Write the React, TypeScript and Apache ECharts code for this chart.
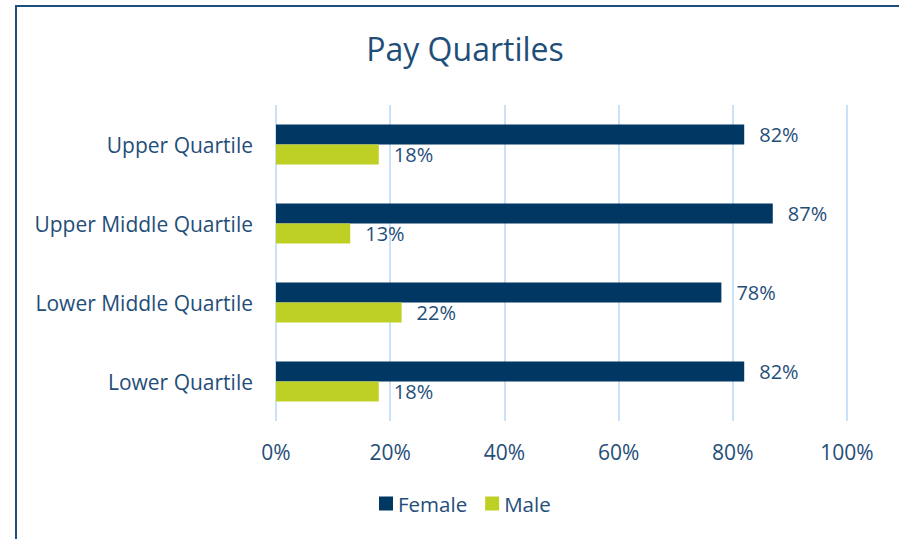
import React, { useEffect, useRef } from "react";
import * as echarts from "echarts";

const categories = ["Upper Quartile", "Upper Middle Quartile", "Lower Middle Quartile", "Lower Quartile"];
const femaleValues = [82, 87, 78, 82];
const maleValues = [18, 13, 22, 18];
const xTicks = [0, 20, 40, 60, 80, 100];

const TEXT = "#1F4E79";
const FONT = "Open Sans";

export default function App() {
  const ref = useRef<HTMLDivElement>(null);
  useEffect(() => {
    if (!ref.current) return;
    const chart = echarts.init(ref.current, null, { renderer: "svg" });
    const label = {
      show: true,
      position: "right",
      distance: 15,
      formatter: "{c}%",
      fontFamily: FONT,
      fontSize: 20,
      color: TEXT,
    };
    chart.setOption({
      animation: false,
      textStyle: { fontFamily: FONT },
      graphic: [
        {
          type: "rect",
          shape: { x: 16, y: 6, width: 900, height: 600 },
          style: { fill: "none", stroke: "#1F4E79", lineWidth: 2 },
          silent: true,
        },
      ],
      title: {
        text: "Pay Quartiles",
        left: 460,
        textAlign: "center",
        top: 27,
        textStyle: { fontFamily: FONT, fontSize: 32, fontWeight: "normal", color: TEXT },
      },
      legend: {
        data: ["Female", "Male"],
        left: 374,
        bottom: 20,
        itemWidth: 14,
        itemHeight: 14,
        itemGap: 18,
        icon: "rect",
        textStyle: { fontFamily: FONT, fontSize: 20.5, color: TEXT },
      },
      grid: { left: 276, right: 52, top: 105, bottom: 118, containLabel: false },
      xAxis: {
        type: "value",
        min: 0,
        max: 100,
        interval: 20,
        axisLine: { show: false },
        axisTick: { show: false },
        splitLine: { show: true, lineStyle: { color: "#C9E2F8", width: 2 } },
        axisLabel: {
          formatter: (v: number) => (xTicks.includes(v) ? v + "%" : ""),
          fontFamily: FONT,
          fontSize: 21,
          color: TEXT,
          margin: 20,
        },
      },
      yAxis: {
        type: "category",
        data: categories,
        inverse: true,
        axisLine: { show: false },
        axisTick: { show: false },
        axisLabel: { fontFamily: FONT, fontSize: 21, color: TEXT, margin: 23 },
      },
      series: [
        {
          name: "Female",
          type: "bar",
          data: femaleValues,
          barWidth: 20,
          barGap: "0%",
          itemStyle: { color: "#003763" },
          label,
        },
        {
          name: "Male",
          type: "bar",
          data: maleValues,
          barWidth: 20,
          barGap: "0%",
          itemStyle: { color: "#BFD025" },
          label,
        },
      ],
    });
    return () => chart.dispose();
  }, []);
  return (
    <div
      ref={ref}
      style={{ position: "fixed", left: 0, top: 0, width: 899, height: 539, background: "#fff" }}
    />
  );
}
